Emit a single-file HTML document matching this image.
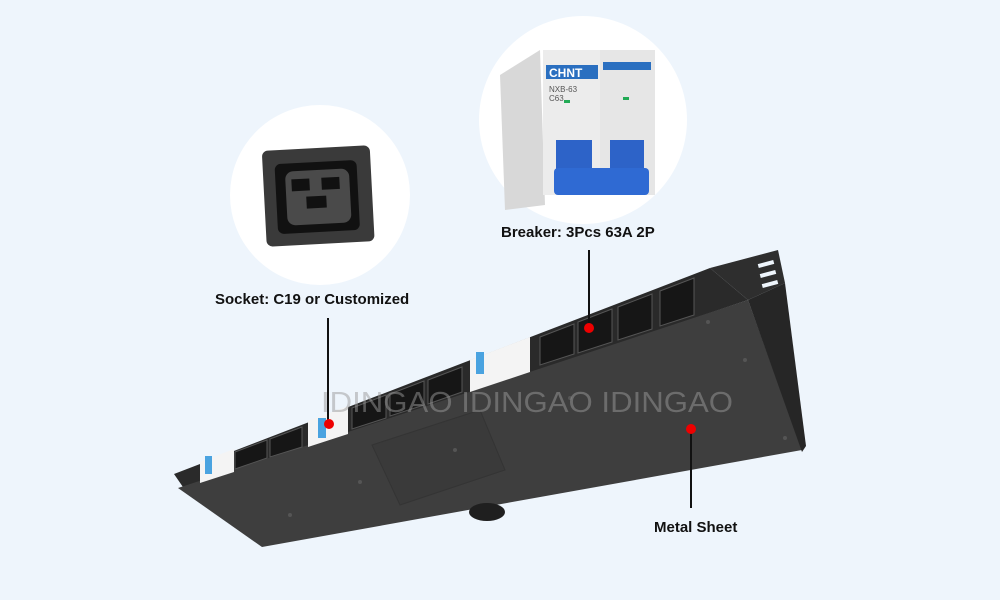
<!DOCTYPE html>
<html><head><meta charset="utf-8"><style>
html,body{margin:0;padding:0;background:#eef5fc;}
svg{display:block}
text{font-family:"Liberation Sans",sans-serif;}
</style></head><body>
<svg width="1000" height="600" viewBox="0 0 1000 600" xmlns="http://www.w3.org/2000/svg">
<rect width="1000" height="600" fill="#eef5fc"/>
<!-- left circle -->
<circle cx="320" cy="195" r="90" fill="#ffffff"/>
<g transform="rotate(-3 318 192)">
<rect x="264" y="148" width="108" height="96" rx="6" fill="#3a3a3a"/>
<rect x="276" y="162" width="82" height="70" rx="6" fill="#111"/>
<rect x="286" y="170" width="64" height="54" rx="8" fill="#4a4a4a"/>
<rect x="292" y="178" width="18" height="12" fill="#111"/>
<rect x="322" y="178" width="18" height="12" fill="#111"/>
<rect x="306" y="196" width="20" height="12" fill="#111"/>
</g>
<!-- right circle breaker -->
<circle cx="583" cy="120" r="104" fill="#ffffff"/>
<path d="M500 75 L540 50 L545 205 L505 210 Z" fill="#d8d8d8"/>
<rect x="543" y="50" width="57" height="145" fill="#ececec"/>
<rect x="600" y="50" width="55" height="145" fill="#e6e6e6"/>
<rect x="546" y="65" width="52" height="14" fill="#2a6fc0"/>
<text x="549" y="77" font-size="12" font-weight="bold" fill="#fff">CHNT</text>
<rect x="603" y="62" width="48" height="8" fill="#2a6fc0"/>
<text x="549" y="92" font-size="8" fill="#555">NXB-63</text>
<text x="549" y="101" font-size="8" fill="#555">C63</text>
<rect x="564" y="100" width="6" height="3" fill="#2a5"/>
<rect x="623" y="97" width="6" height="3" fill="#2a5"/>
<rect x="556" y="140" width="36" height="40" fill="#2d63c8"/>
<rect x="610" y="140" width="34" height="40" fill="#2d63c8"/>
<rect x="554" y="168" width="95" height="27" rx="4" fill="#2f6ad3"/>
<!-- PDU -->
<polygon points="710,268 778,250 785,283 748,300" fill="#2e2e2e"/>
<rect x="758" y="262" width="16" height="4" fill="#eef5fc" transform="rotate(-15 766 264)"/>
<rect x="760" y="272" width="16" height="4" fill="#eef5fc" transform="rotate(-15 768 274)"/>
<rect x="762" y="282" width="16" height="4" fill="#eef5fc" transform="rotate(-15 770 284)"/>
<polygon points="174,474 710,268 748,300 185,490" fill="#2a2a2a"/>
<polygon points="178,488 748,300 802,450 262,547" fill="#3e3e3e"/>
<polygon points="748,300 785,283 806,446 802,452" fill="#262626"/>
<polygon points="372,445 480,410 505,470 400,505" fill="#3a3a3a" stroke="#343434" stroke-width="1"/>
<ellipse cx="487" cy="512" rx="18" ry="9" fill="#1f1f1f"/>
<!-- outlets -->
<g fill="#161616" stroke="#555" stroke-width="1">
<polygon points="540,337 574,324 574,354 540,365"/>
<polygon points="578,322 612,309 612,342 578,353"/>
<polygon points="618,307 652,294 652,329 618,340"/>
<polygon points="660,291 694,278 694,315 660,326"/>
<polygon points="352,408 386,395 386,418 352,429"/>
<polygon points="390,394 424,381 424,405 390,416"/>
<polygon points="428,380 462,367 462,392 428,404"/>
<polygon points="235,452 267,440 267,458 235,469"/>
<polygon points="270,439 302,427 302,447 270,457"/>
</g>
<polygon points="470,360 530,337 530,372 470,392" fill="#f4f4f4"/>
<polygon points="308,421 348,406 348,434 308,447" fill="#f4f4f4"/>
<polygon points="200,462 234,449 234,472 200,483" fill="#f4f4f4"/>
<rect x="476" y="352" width="8" height="22" fill="#4aa3e0"/>
<rect x="318" y="418" width="8" height="20" fill="#4aa3e0"/>
<rect x="205" y="456" width="7" height="18" fill="#4aa3e0"/>
<g fill="#555"><circle cx="708" cy="322" r="2"/><circle cx="745" cy="360" r="2"/><circle cx="570" cy="398" r="2"/><circle cx="455" cy="450" r="2"/><circle cx="360" cy="482" r="2"/><circle cx="290" cy="515" r="2"/><circle cx="785" cy="438" r="2"/></g>
<!-- watermark -->
<text x="321" y="412" font-size="29" fill="#9a9a9a" fill-opacity="0.5" textLength="412" lengthAdjust="spacingAndGlyphs">IDINGAO  IDINGAO  IDINGAO</text>
<!-- labels -->
<text x="215" y="304" font-size="15" font-weight="bold" fill="#111">Socket: C19 or Customized</text>
<text x="501" y="237" font-size="15" font-weight="bold" fill="#111">Breaker: 3Pcs 63A 2P</text>
<text x="654" y="532" font-size="15" font-weight="bold" fill="#111">Metal Sheet</text>
<line x1="328" y1="318" x2="328" y2="424" stroke="#111" stroke-width="2"/>
<line x1="589" y1="250" x2="589" y2="328" stroke="#111" stroke-width="2"/>
<line x1="691" y1="430" x2="691" y2="508" stroke="#111" stroke-width="2"/>
<circle cx="329" cy="424" r="5" fill="#e00"/>
<circle cx="589" cy="328" r="5" fill="#e00"/>
<circle cx="691" cy="429" r="5" fill="#e00"/>
</svg>
</body></html>
